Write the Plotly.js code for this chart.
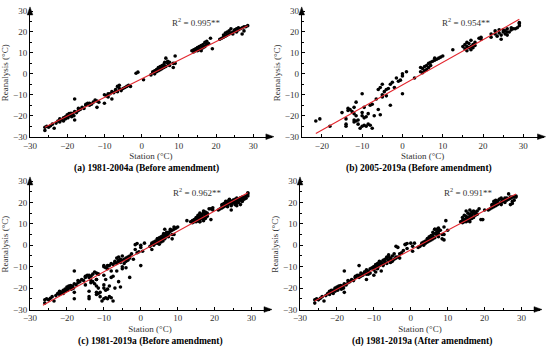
<!DOCTYPE html>
<html>
<head>
<meta charset="utf-8">
<script src="https://cdn.plot.ly/plotly-3.0.1.min.js"></script>
<style>html,body{margin:0;padding:0;background:#fff;}#chart{width:550px;height:352px;}</style>
</head>
<body>
<div id="chart"></div>
<script>
// ---------- DATA ----------
// (a) 1981-2004a (Before amendment)
var aStation = [-26,-26,-25.5,-25,-24.5,-24,-23.5,-23,-22.5,-22,-22,-21.5,-21,-21,-20.5,-20.5,-20,-20,-19.8,-19.5,-19.5,-19,-19,-18.8,-18.5,-18.2,-18,-18,-18,-17.5,-17,-17,-16.5,
  -16,-15.5,-15,-15,-14.5,-14,-14,-13.5,-13,-12.5,-12,-12,-11.5,
  -10,-10,-9.5,-9,-9,-8.5,-8,-8,-7.5,-7,-7,-6.5,-6.5,-6,-6,-5.5,-5,-4.5,-4,-3.5,-3,
  -1.5,-1,0.5,
  2.5,3,3,3.5,3.5,4,4,4.5,4.5,5,5,5.5,5.5,6,6,6.2,6.5,6.5,7,7,7.5,7.5,8.5,8.5,9,9,
  13.5,14,14,14.5,14.5,15,15,15.5,15.5,16,16,16,16.5,16.5,17,17,17.5,17.5,18,18.5,19,
  21,21.5,22,22,22.5,22.5,23,23,23.5,23.5,24,24,24.5,24.5,25,25,25.5,25.5,26,26,26.5,27,27,27.5,27.5,28,28.5];
var aReanalysis = [-25.5,-27,-25,-25.5,-24.8,-24,-26,-23.5,-22.5,-21.5,-23,-22,-21,-22.5,-20.5,-21.5,-19.5,-20.5,-21,-19,-20,-19.5,-18.8,-20.5,-19,-20,-12,-22,-18,-18.5,-17.5,-16.5,-17,
  -16,-16.5,-15,-14.5,-14,-15,-14,-14.5,-13.5,-12.5,-13,-16,-13.5,
  -14,-10,-10.5,-9.5,-11,-9.5,-8.5,-12,-9,-7.5,-8,-6,-8.5,-5.5,-7,-8,-7,-6.5,-6,-5.5,-6,
  0.3,0.8,-2.8,
  -0.5,0.5,1,1.5,0,1,2,1.5,3,2,3.5,2.5,4,3,4.5,5.5,7.5,3.5,5,6,4,5.5,3,5,8.5,5,
  11,10.5,11.5,11,12,11,12.5,11.5,13,12,11,13.5,12.5,14,13,15,14,15.5,14.5,17,12,
  16.5,17,17.5,18.5,18,19.5,18.5,20,19,20.5,19.5,21.5,20,19,20.5,21,20,21.5,21,22,21.5,22,19,20.5,22.5,22.5,23];

// (b) 2005-2019a (Before amendment)
var bStation = [-21.5,-20.5,-18,-15,-14,-14,-14,-13.5,-13.5,-13,-12.5,-12,-12,-12,-12,-11.5,-11.5,-11.5,-11,-11,-10.5,-10,-10,-10,-10,-9.5,-9.5,-9.5,-9,-9,-8.5,-8.5,-8,-8,-7.5,-7.5,-7,-6.5,-6,-6,-5.5,-5.5,-5,-5,-5,-4.5,-4,-4,-3.5,-3,-3,-2.5,-2,-1.5,-1,-0.5,0,0,0,1,3,
  4.5,4.5,5,5,5.5,5.5,6,6,6.5,6.5,7,7,7.5,8,8,8.5,9,9.5,10,12.5,
  15,15.5,15.5,16,16,16,16.5,16.5,17,17,17,17.5,17.5,18,18,19,19.5,19.5,
  22,22,23,23,23.5,24,24,24.5,24.5,25,25,25.5,25.5,26,26,26,26.5,27,27,27.5,28,28.5,29,29,29];
var bReanalysis = [-22.5,-21.5,-25,-18.5,-21.5,-24,-25,-16.5,-17.5,-17,-18,-19,-16,-22,-23,-20,-22.5,-13.5,-22,-24,-26,-25,-20,-18.5,-9.5,-16,-21,-24.5,-20.5,-25,-19,-24,-24.5,-15,-14.5,-26,-20,-12,-17,-7.5,-19.5,-6.5,-11,-10,-5,-8.5,-7.5,-10.5,-7,-15,-5,-4,-6.5,-2,-3.5,-3,0,-1,-9.5,1,-2,
  3,1,0.5,2.5,1.5,3.5,2,4,3,5,4,5.5,6,6.5,7.5,7,7.5,8,8.5,11.5,
  13,14,12,11,13,15,12.5,14.5,11.5,13,16,14,12.5,13.5,15,17,16.5,17.5,
  17.5,19,19,20.5,18,19.5,21,16.5,18.5,20,21,19,20.5,18.5,20,21.5,20,21,22,21.5,21.5,22,23,24.5,24];

// (d) 1981-2019a (After amendment): amended 2005-2019a values (added to the 1981-2004a values)
var dStationExtra = [-21.5,-20.5,-18,-15,-14,-14,-13.5,-13,-12.5,-12,-12,-11.5,-11,-11,-10.5,-10,-10,-9.5,-9.5,-9,-9,-8.5,-8.5,-8,-7.5,-7.5,-7,-6.5,-6,-6,-5.5,-5,-5,-4.5,-4,-4,-3.5,-3,-2.5,-2,-1.5,-1,0,0.5,1,2,
  4.5,5,5.5,6,6.5,7,7.5,7.5,8,9.5,9,10,
  14,14.5,15,15,15.5,16,16,16.5,17,17.5,18,19.5,20,
  22,22.5,23,23.5,24,24.5,25,25.5,26,26.5,27,27.5,28,28.5];
var dReanalysisExtra = [-21,-20,-18.5,-15,-9.5,-14.5,-13,-14,-12.5,-11.5,-13.5,-12,-11,-13,-10.5,-10,-11.5,-9,-12.5,-8.5,-10.5,-9,-7.5,-8,-7,-9.5,-6.5,-5.5,-7,-4.5,-6,-5,-7.5,-4,-0.5,-5.5,-1,-4,-3.5,-2.5,0.5,-1.5,1,-0.5,1,-1,
  3,4,4.5,6,7.5,7.5,6.5,8,7,11.5,2.5,7,
  13,14,13.5,16,15,14.5,16.5,15.5,16,15,16,12,16.5,
  19,20.5,21,20,21.5,22,21,22,21.5,24,22.5,19.5,21,22.5];

// Fitted lines: slope, intercept, x extent
var fitSlope = [0.89, 1.08, 0.946, 0.917];
var fitIntercept = [-2.36, -5.3, -2.93, -2.15];
var fitXStart = [-26, -21.5, -26.5, -26];
var fitXEnd = [28.5, 29, 29, 28.5];
var r2Labels = ['R<sup>2</sup> = 0.995**', 'R<sup>2</sup> = 0.954**', 'R<sup>2</sup> = 0.962**', 'R<sup>2</sup> = 0.991**'];
var panelTitles = ['(a) 1981-2004a (Before amendment)', '(b) 2005-2019a (Before amendment)', '(c) 1981-2019a (Before amendment)', '(d) 1981-2019a (After amendment)'];
var xTitle = 'Station (°C)';
var yTitle = 'Reanalysis (°C)';

// ---------- BUILD ----------
var panelX = [aStation, bStation, aStation.concat(bStation), aStation.concat(dStationExtra)];
var panelY = [aReanalysis, bReanalysis, aReanalysis.concat(bReanalysis), aReanalysis.concat(dReanalysisExtra)];

var FONT = 'Liberation Serif, Times New Roman, serif';
var xRanges = [[-30, 35], [-25, 35], [-30, 35], [-30, 35]];
var yRange = [-30, 31];
var xDomains = [[30/550, 271.9/550], [301.7/550, 543.5/550], [30/550, 270/550], [300/550, 540/550]];
var yDomains = [[1-136.7/352, 1-8.9/352], [1-136.7/352, 1-8.9/352], [1-309.5/352, 1-178.9/352], [1-309.5/352, 1-178.9/352]];

var traces = [];
var layout = {
  width: 550, height: 352,
  margin: {l: 0, r: 0, t: 0, b: 0},
  paper_bgcolor: '#fff', plot_bgcolor: '#fff',
  showlegend: false,
  annotations: [],
  shapes: []
};

function P(px, py) { return {x: px/550, y: 1 - py/352}; }

var titlePos = [[146,168.5],[419,168],[150,341.7],[421.5,341.7]];
var r2Pos = [[170,22],[440,22],[171,192],[442,192]];

for (var i = 0; i < 4; i++) {
  var sfx = i === 0 ? '' : String(i + 1);
  var xa = 'x' + sfx, ya = 'y' + sfx;
  traces.push({
    type: 'scatter', mode: 'markers', x: panelX[i], y: panelY[i],
    xaxis: xa, yaxis: ya,
    marker: {color: '#000', size: 3.6, symbol: 'circle'},
    cliponaxis: false, hoverinfo: 'skip'
  });
  traces.push({
    type: 'scatter', mode: 'lines',
    x: [fitXStart[i], fitXEnd[i]],
    y: [fitSlope[i]*fitXStart[i] + fitIntercept[i], fitSlope[i]*fitXEnd[i] + fitIntercept[i]],
    xaxis: xa, yaxis: ya,
    line: {color: '#e3262e', width: 1.1},
    cliponaxis: false, hoverinfo: 'skip'
  });
  var axCommon = {
    showline: true, linecolor: '#000', linewidth: 1, mirror: false,
    showgrid: false, zeroline: false,
    ticks: 'inside', ticklen: 3, tickcolor: '#000', tickwidth: 1,
    dtick: 10, tick0: 0,
    minor: {ticks: 'inside', ticklen: 2, dtick: 5, tick0: 0, tickcolor: '#000', showgrid: false},
    tickfont: {family: FONT, size: 9, color: '#333'},
    automargin: false,
    fixedrange: true
  };
  layout['xaxis' + sfx] = Object.assign({}, axCommon, {
    range: xRanges[i], domain: xDomains[i], anchor: ya, ticklabelstandoff: 0,
    title: {text: xTitle, font: {family: FONT, size: 9, color: '#333'}, standoff: 3}
  });
  layout['yaxis' + sfx] = Object.assign({}, axCommon, {
    range: yRange, domain: yDomains[i], anchor: xa,
    title: {text: yTitle, font: {family: FONT, size: 9, color: '#333'}, standoff: 2}
  });
  // axis arrows (filled triangles, sized in pixels, anchored to the axis ends in paper coords)
  layout.shapes.push({
    type: 'path', xref: 'paper', yref: 'paper', xsizemode: 'pixel', ysizemode: 'pixel',
    xanchor: xDomains[i][1], yanchor: yDomains[i][0],
    path: 'M2,0 L-6,-2.8 L-6,2.8 Z', fillcolor: '#000', line: {color: '#000', width: 0.5}
  });
  layout.shapes.push({
    type: 'path', xref: 'paper', yref: 'paper', xsizemode: 'pixel', ysizemode: 'pixel',
    xanchor: xDomains[i][0], yanchor: yDomains[i][1],
    path: 'M0,2 L-2.8,-6 L2.8,-6 Z', fillcolor: '#000', line: {color: '#000', width: 0.5}
  });
  var tp = P(titlePos[i][0], titlePos[i][1]);
  layout.annotations.push({xref: 'paper', yref: 'paper', x: tp.x, y: tp.y, xanchor: 'center', yanchor: 'middle',
    text: '<b>' + panelTitles[i] + '</b>', showarrow: false, font: {family: FONT, size: 9.5, color: '#000'}});
  var qp = P(r2Pos[i][0], r2Pos[i][1]);
  layout.annotations.push({xref: 'paper', yref: 'paper', x: qp.x, y: qp.y, xanchor: 'left', yanchor: 'middle',
    text: r2Labels[i], showarrow: false, font: {family: FONT, size: 9, color: '#333'}});
}

Plotly.newPlot('chart', traces, layout, {staticPlot: true, displayModeBar: false});
</script>
</body>
</html>
